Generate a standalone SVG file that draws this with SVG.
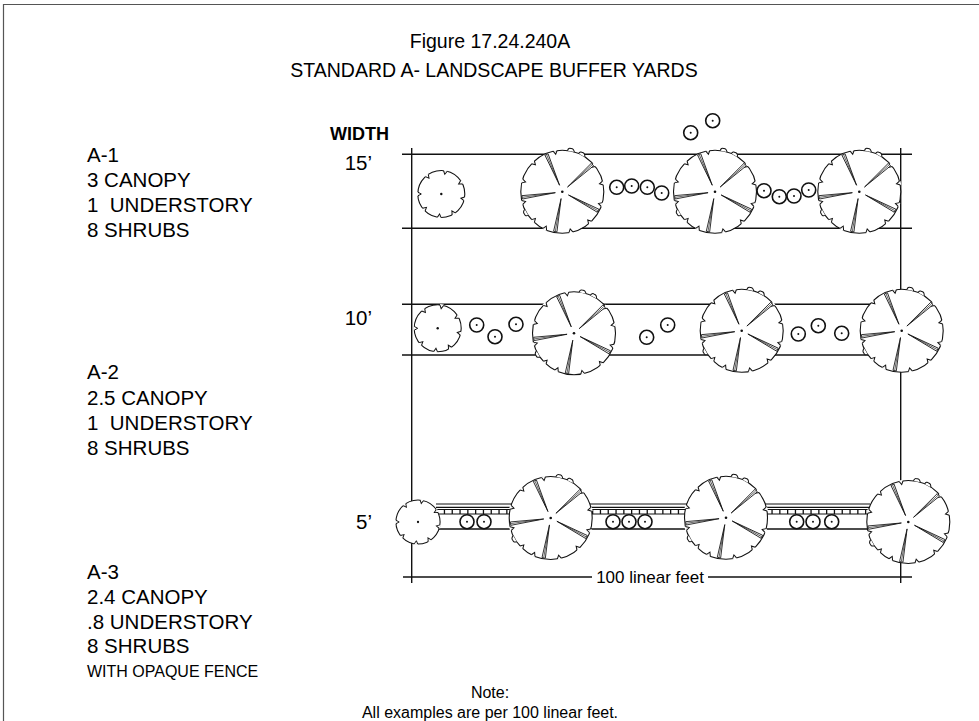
<svg xmlns="http://www.w3.org/2000/svg" width="979" height="721" viewBox="0 0 979 721">
<style>
text{font-family:"Liberation Sans",Arial,sans-serif;fill:#000}
.lbl{font-size:20.5px}
.sm{font-size:16px}
.t{font-size:19.5px}
.ln{stroke:#111;stroke-width:1.4;fill:none}
.tr{fill:#fff;stroke:#111;stroke-width:1.1}
.sp{fill:#fff;stroke:#111;stroke-width:0.8}
.sh{fill:#fff;stroke:#111;stroke-width:1.6}
.dot{fill:#111}
</style>
<defs>
<g id="spoke"><polygon class="sp" points="7,0 40.5,-1.7 40.5,1.7"/><line x1="12" y1="0" x2="40" y2="0" stroke="#111" stroke-width="0.6"/></g>
<g id="notchL"><rect x="40.6" y="-2" width="1.9" height="4" fill="#fff"/><path d="M41.5,-2 L38,0 L41.5,2" fill="none" stroke="#111" stroke-width="1"/></g>
<g id="bump"><path d="M41.3,-3.5 Q44.5,-3 44,-0.5 Q44.8,2 41.3,3.5" fill="#fff" stroke="#111" stroke-width="1"/></g>
<g id="canopy">
<circle r="41.5" class="tr"/>
<use href="#bump" transform="rotate(-78)"/>
<use href="#bump" transform="rotate(-62)"/>
<use href="#bump" transform="rotate(150)"/>
<use href="#notchL" transform="rotate(-100)"/>
<use href="#notchL" transform="rotate(-40)"/>
<use href="#notchL" transform="rotate(-12)"/>
<use href="#notchL" transform="rotate(18)"/>
<use href="#notchL" transform="rotate(48)"/>
<use href="#notchL" transform="rotate(78)"/>
<use href="#notchL" transform="rotate(115)"/>
<use href="#notchL" transform="rotate(135)"/>
<use href="#notchL" transform="rotate(165)"/>
<use href="#notchL" transform="rotate(195)"/>
<use href="#notchL" transform="rotate(225)"/>
<use href="#spoke" transform="rotate(-113)"/>
<use href="#spoke" transform="rotate(-42)"/>
<use href="#spoke" transform="rotate(28)"/>
<use href="#spoke" transform="rotate(100)"/>
<use href="#spoke" transform="rotate(172)"/>
<circle r="1.3" class="dot"/>
</g>
<g id="notch"><rect x="22.6" y="-1.9" width="1.8" height="3.8" fill="#fff"/><path d="M23.5,-1.9 L20,0 L23.5,1.9" fill="none" stroke="#111" stroke-width="1"/></g>
<g id="under">
<circle r="23.5" class="tr"/>
<use href="#notch" transform="rotate(-80)"/>
<use href="#notch" transform="rotate(-30)"/>
<use href="#notch" transform="rotate(12)"/>
<use href="#notch" transform="rotate(58)"/>
<use href="#notch" transform="rotate(95)"/>
<use href="#notch" transform="rotate(138)"/>
<use href="#notch" transform="rotate(180)"/>
<use href="#notch" transform="rotate(-128)"/>
<circle r="1.2" class="dot"/>
</g>
<g id="shrub"><circle r="7" class="sh"/><circle r="1" class="dot"/></g>
</defs>

<path id="frame" d="M3.5,721 V4.5 H979" fill="none" stroke="#555" stroke-width="1.2"/>

<g id="title" text-anchor="middle">
<text class="t" x="490" y="48">Figure 17.24.240A</text>
<text class="t" x="494" y="77">STANDARD A- LANDSCAPE BUFFER YARDS</text>
</g>

<g id="labels">
<text class="lbl" x="87" y="162">A-1</text>
<text class="lbl" x="87" y="187">3 CANOPY</text>
<text class="lbl" x="87" y="212" xml:space="preserve">1  UNDERSTORY</text>
<text class="lbl" x="87" y="237">8 SHRUBS</text>
<text class="lbl" x="87" y="379">A-2</text>
<text class="lbl" x="87" y="405">2.5 CANOPY</text>
<text class="lbl" x="87" y="430" xml:space="preserve">1  UNDERSTORY</text>
<text class="lbl" x="87" y="455">8 SHRUBS</text>
<text class="lbl" x="87" y="579">A-3</text>
<text class="lbl" x="87" y="604">2.4 CANOPY</text>
<text class="lbl" x="87" y="629">.8 UNDERSTORY</text>
<text class="lbl" x="87" y="653">8 SHRUBS</text>
<text class="sm" x="87" y="677">WITH OPAQUE FENCE</text>
<text x="330" y="140" font-size="18px" font-weight="bold">WIDTH</text>
<text class="lbl" x="372" y="170" text-anchor="end">15’</text>
<text class="lbl" x="372" y="325" text-anchor="end">10’</text>
<text class="lbl" x="372" y="529" text-anchor="end">5’</text>
<text class="sm" x="490" y="698" text-anchor="middle">Note:</text>
<text class="sm" x="490" y="718" text-anchor="middle">All examples are per 100 linear feet.</text>
</g>

<g id="grid" class="ln">
<line x1="411.7" y1="148" x2="411.7" y2="583"/>
<line x1="900.7" y1="148" x2="900.7" y2="583"/>
<line x1="402" y1="154.3" x2="912" y2="154.3"/>
<line x1="402" y1="228.3" x2="912" y2="228.3"/>
<line x1="402" y1="304.3" x2="912" y2="304.3"/>
<line x1="402" y1="355" x2="912" y2="355"/>
<line x1="403" y1="529" x2="912" y2="529"/>
<line x1="403" y1="577" x2="592" y2="577"/>
<line x1="708" y1="577" x2="912" y2="577"/>
</g>
<text x="650" y="583" font-size="17px" text-anchor="middle">100 linear feet</text>

<g id="fence">
<line x1="436" y1="504" x2="870" y2="504" stroke="#111" stroke-width="1.2"/>
<line x1="436" y1="507.3" x2="870" y2="507.3" stroke="#111" stroke-width="1.2"/>
<rect x="436" y="509.5" width="434" height="4.5" fill="none" stroke="#111" stroke-width="1"/>
<line x1="436" y1="511.75" x2="870" y2="511.75" stroke="#111" stroke-width="4.5" stroke-dasharray="1.3 6.5"/>
</g>

<g id="band-15">
<use href="#under" x="441.3" y="194"/>
<use href="#canopy" x="562.3" y="191.7"/>
<use href="#canopy" x="715" y="191.7"/>
<use href="#canopy" x="859.3" y="191.7"/>
<use href="#shrub" x="616.7" y="187.3"/>
<use href="#shrub" x="631.7" y="186"/>
<use href="#shrub" x="647.3" y="187.3"/>
<use href="#shrub" x="661.7" y="193"/>
<use href="#shrub" x="764" y="190.7"/>
<use href="#shrub" x="779.3" y="196.7"/>
<use href="#shrub" x="794" y="196"/>
<use href="#shrub" x="808.7" y="190"/>
<use href="#shrub" x="690.7" y="132.7"/>
<use href="#shrub" x="712.7" y="120.7"/>
</g>

<g id="band-10">
<use href="#under" x="437.7" y="328.3"/>
<use href="#canopy" x="574" y="333.3"/>
<use href="#canopy" x="741.7" y="330.7"/>
<use href="#canopy" x="901.7" y="330.7"/>
<use href="#shrub" x="476.7" y="325"/>
<use href="#shrub" x="495" y="336.7"/>
<use href="#shrub" x="516" y="324.3"/>
<use href="#shrub" x="646.7" y="337.3"/>
<use href="#shrub" x="667.7" y="325"/>
<use href="#shrub" x="798.3" y="334"/>
<use href="#shrub" x="818.3" y="325.7"/>
<use href="#shrub" x="841.7" y="333.3"/>
</g>

<g id="band-5">
<use href="#under" transform="translate(418,522) scale(0.94)"/>
<use href="#canopy" x="550.7" y="518"/>
<use href="#canopy" x="726" y="517.7"/>
<use href="#canopy" x="908.3" y="522"/>
<use href="#shrub" x="467" y="521.7"/>
<use href="#shrub" x="484" y="521.7"/>
<use href="#shrub" x="613" y="521.7"/>
<use href="#shrub" x="629" y="521.7"/>
<use href="#shrub" x="645" y="521.7"/>
<use href="#shrub" x="796.7" y="521.7"/>
<use href="#shrub" x="813" y="521.7"/>
<use href="#shrub" x="831.7" y="521.7"/>
</g>
</svg>
